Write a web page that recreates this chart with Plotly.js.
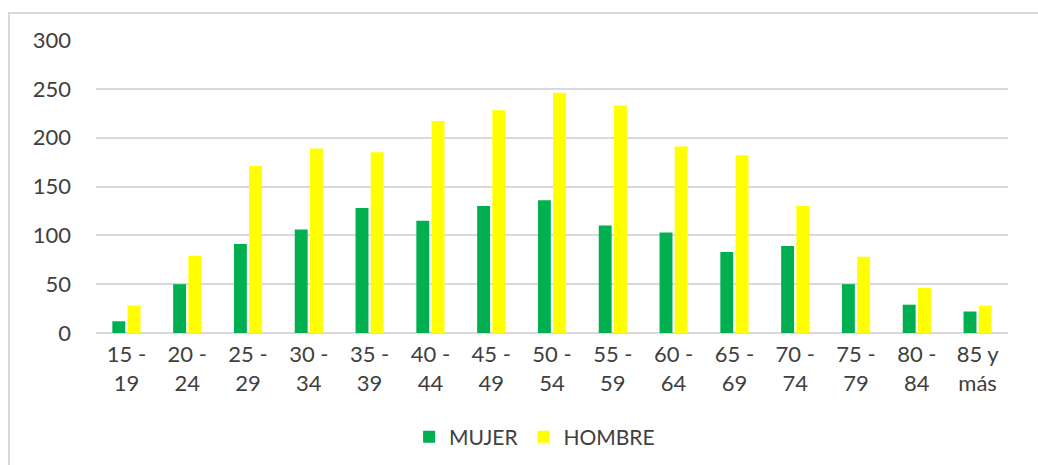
<!DOCTYPE html>
<html>
<head>
<meta charset="utf-8">
<script src="https://cdn.plot.ly/plotly-3.0.1.min.js"></script>
<style>
html,body{margin:0;padding:0;background:#fff;}
#frame{position:absolute;left:8px;top:12px;width:1040px;height:470px;border:2px solid #d9d9d9;box-sizing:border-box;}
#chart{position:absolute;left:0;top:0;width:1038px;height:465px;}
</style>
</head>
<body>
<div id="frame"></div>
<div id="chart"></div>
<script>
var categories = ["15 -<br>19","20 -<br>24","25 -<br>29","30 -<br>34","35 -<br>39","40 -<br>44","45 -<br>49","50 -<br>54","55 -<br>59","60 -<br>64","65 -<br>69","70 -<br>74","75 -<br>79","80 -<br>84","85 y<br>más"];
var mujer  = [12, 50, 91, 106, 128, 115, 130, 136, 110, 103, 83, 89, 50, 29, 22];
var hombre = [28, 79, 171, 189, 185, 217, 228, 246, 233, 191, 182, 130, 78, 46, 28];
var yTicks = [0, 50, 100, 150, 200, 250, 300];

var fontFam = 'Lato, "Noto Sans", sans-serif';
var data = [
  {type:'bar', name:'MUJER', x:categories, y:mujer, marker:{color:'#00B050'}},
  {type:'bar', name:'HOMBRE', x:categories, y:hombre, marker:{color:'#FFFF00'}}
];
var layout = {
  width:1038, height:465,
  margin:{l:96, r:30, t:40, b:132},
  paper_bgcolor:'rgba(0,0,0,0)', plot_bgcolor:'rgba(0,0,0,0)',
  barmode:'group', bargap:0.5, bargroupgap:0.15,
  font:{family:fontFam, color:'#404040', size:21},
  xaxis:{automargin:false, tickfont:{size:22, family:fontFam, color:'#404040'}, showline:false, ticks:'', showgrid:false, ticklabelstandoff:6},
  yaxis:{automargin:false, range:[0,300], tickvals:yTicks, ticktext:yTicks.map(String), showgrid:true, gridcolor:'#d9d9d9', gridwidth:2,
         zeroline:true, zerolinecolor:'#d9d9d9', zerolinewidth:2, showline:false, ticks:'', ticklabelstandoff:24,
         tickfont:{size:22, family:fontFam, color:'#404040'}},
  showlegend:true,
  legend:{orientation:'h', xref:'container', yref:'container', x:0.515, xanchor:'center', y:0.06, yanchor:'middle', font:{size:21, family:fontFam, color:'#404040'}, traceorder:'normal'}
};
Plotly.newPlot('chart', data, layout, {displayModeBar:false, staticPlot:true});
</script>
</body>
</html>
